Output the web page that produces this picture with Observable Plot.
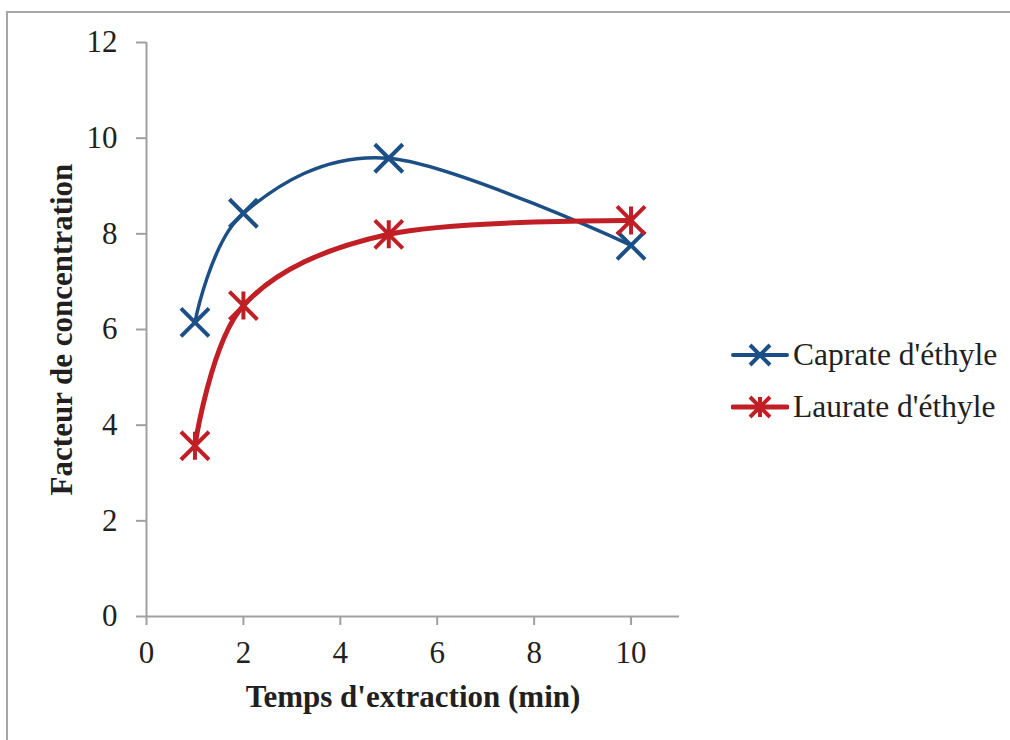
<!DOCTYPE html>
<html><head><meta charset="utf-8">
<script src="https://cdn.jsdelivr.net/npm/d3@7"></script>
<script src="https://cdn.jsdelivr.net/npm/@observablehq/plot@0.6"></script>
<style>
body{margin:0;background:#fff;}
#wrap{position:relative;width:1010px;height:740px;overflow:hidden;font-family:"Liberation Serif","Times New Roman",serif;color:#231f20;}
#frame{position:absolute;left:6px;top:11px;width:1100px;height:800px;border-top:2px solid #a6a6a6;border-left:2px solid #a6a6a6;}
#chart{position:absolute;left:0;top:0;}
#legend{position:absolute;left:731px;top:0;}
.row{position:absolute;left:0;display:flex;align-items:center;white-space:nowrap;font-size:31.5px;line-height:1;}
.row svg{display:block;margin-right:4px;}
</style></head>
<body><div id="wrap"><div id="frame"></div><div id="chart"></div><div id="legend"></div></div>
<script>
const times = [1, 2, 5, 10];
const caprate = [6.15, 8.43, 9.58, 7.76];
const laurate = [3.57, 6.5, 7.99, 8.28];
const seriesNames = ["Caprate d'éthyle", "Laurate d'éthyle"];
const seriesColors = ["#1b4f85", "#c11f26"];
const xTicks = [0, 2, 4, 6, 8, 10];
const yTicks = [0, 2, 4, 6, 8, 10, 12];
const xLabel = "Temps d'extraction (min)";
const yLabel = "Facteur de concentration";

const half = size => Math.sqrt(size / Math.PI);
const crossSym = {draw(ctx, size) { const r = half(size); ctx.moveTo(-r, -r); ctx.lineTo(r, r); ctx.moveTo(-r, r); ctx.lineTo(r, -r); }};
const starSym = {draw(ctx, size) { const r = half(size); ctx.moveTo(-r, -r); ctx.lineTo(r, r); ctx.moveTo(-r, r); ctx.lineTo(r, -r); ctx.moveTo(0, -r); ctx.lineTo(0, r); }};
const symbols = [crossSym, starSym];

const series = [caprate, laurate];
const data = series.map((vals, k) => times.map((t, i) => ({t, v: vals[i], s: seriesNames[k]})));

const axisGray = "#a0a0a0";
const font = "'Liberation Serif','Times New Roman',serif";

const marks = [
  Plot.ruleX([0], {stroke: axisGray, strokeWidth: 2}),
  Plot.ruleY([0], {stroke: axisGray, strokeWidth: 2}),
  Plot.axisX({ticks: xTicks, tickSize: 9, tickPadding: 15, stroke: axisGray, strokeWidth: 2, fill: "#231f20", label: null}),
  Plot.axisY({ticks: yTicks, tickSize: 10, tickPadding: 19, stroke: axisGray, strokeWidth: 2, fill: "#231f20", label: null}),
  Plot.text([xLabel], {frameAnchor: "bottom", dy: 81, lineAnchor: "middle", textAnchor: "middle", fontWeight: "bold", fontSize: 31, fill: "#231f20"}),
  Plot.text([yLabel], {frameAnchor: "left", dx: -84, rotate: -90, lineAnchor: "middle", textAnchor: "middle", fontWeight: "bold", fontSize: 31, fill: "#231f20"})
];
data.forEach((d, k) => {
  marks.push(Plot.line(d, {x: "t", y: "v", curve: "cardinal", stroke: seriesColors[k], strokeWidth: k === 0 ? 3.5 : 5}));
});
data.forEach((d, k) => {
  marks.push(Plot.dot(d, {x: "t", y: "v", symbol: symbols[k], r: 14, stroke: seriesColors[k], strokeWidth: 4, fill: "none"}));
});

const plot = Plot.plot({
  width: 700, height: 740,
  marginLeft: 146, marginTop: 42, marginBottom: 124, marginRight: 21,
  style: {fontFamily: font, fontSize: "31px", color: "#231f20", background: "transparent"},
  x: {domain: [0, 11]},
  y: {domain: [0, 12]},
  marks
});
document.getElementById("chart").appendChild(plot);

// Legend
const legend = d3.select("#legend");
const rowY = [355, 407];
seriesNames.forEach((name, k) => {
  const row = legend.append("div").attr("class", "row").style("top", (rowY[k] - 16) + "px");
  const svg = row.append("svg").attr("width", 58).attr("height", 32);
  svg.append("line").attr("x1", 2).attr("x2", 56).attr("y1", 16).attr("y2", 16)
    .attr("stroke", seriesColors[k]).attr("stroke-width", k === 0 ? 4 : 5).attr("stroke-linecap", "round");
  svg.append("path").attr("transform", "translate(29,16)")
    .attr("d", d3.symbol(symbols[k], Math.PI * 10 * 10)())
    .attr("stroke", seriesColors[k]).attr("stroke-width", 4).attr("fill", "none");
  row.append("span").text(name);
});
</script>
</body></html>
